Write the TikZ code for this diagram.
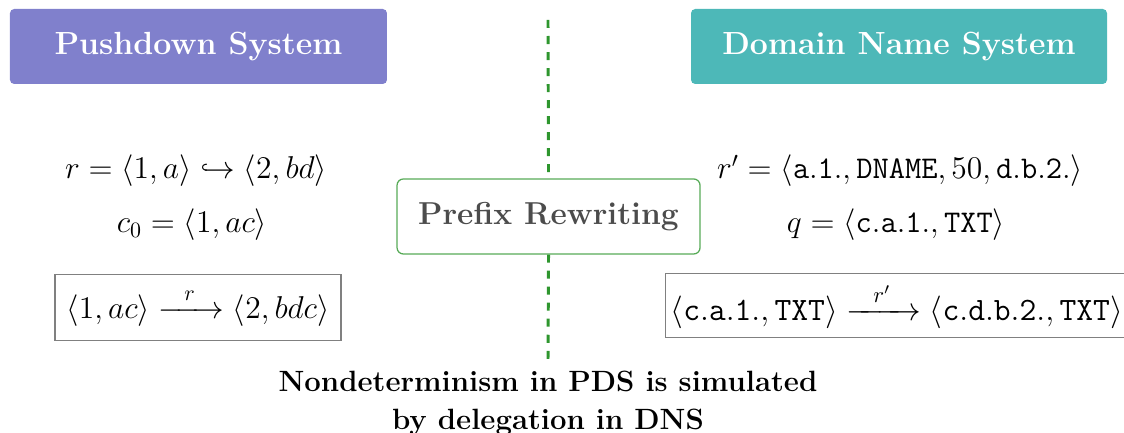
\documentclass[tikz,border=0pt]{standalone}
\usepackage{amsmath,amssymb}
\usetikzlibrary{positioning}

\definecolor{pdscol}{RGB}{128,128,204}
\definecolor{dnscol}{RGB}{77,184,184}
\definecolor{sepcol}{RGB}{46,150,46}

\newcommand{\hdtext}[1]{\scalebox{1.055}{#1}}
\newcommand{\eqtext}[1]{\scalebox{1.04}{$#1$}}
\newcommand{\steparrow}[1]{\xrightarrow{\hspace{0.6em}#1\hspace{0.6em}}}

\begin{document}
\begin{tikzpicture}[x=1cm,y=1cm,
    titlebox/.style={rounded corners=2pt, text=white, font=\Large\bfseries,
        minimum height=1.25cm, inner sep=0pt},
    rulebox/.style={draw=black!50, line width=0.5pt, font=\Large,
        inner xsep=5.5pt, inner ysep=6.5pt},
    eqn/.style={font=\Large, anchor=base, inner sep=0pt},
    sepline/.style={draw=sepcol, line width=1.4pt, dash pattern=on 3.8pt off 3.8pt}]
    \useasboundingbox (0,0) rectangle (18.733,-7.2);
    \clip (0,0) rectangle (18.733,-7.2);

    % headers
    \node[titlebox, fill=pdscol, minimum width=6.283cm] (pds) at (3.308,-0.775) {\hdtext{Pushdown System}};
    \node[titlebox, fill=dnscol, minimum width=6.933cm] (dns) at (14.983,-0.775) {\hdtext{Domain Name System}};

    % middle
    \coordinate (sep top) at (9.133,-0.333);
    \coordinate (sep bot) at (9.133,-6.033);
    \node[draw=sepcol!80, line width=0.6pt, rounded corners=3pt, fill=white,
        minimum width=5.05cm, minimum height=1.25cm, text=black!70,
        font=\Large\bfseries] (prefix) at (9.142,-3.608) {\scalebox{1.045}{Prefix Rewriting}};
    \draw[sepline] (sep top) -- (prefix.north);
    \draw[sepline] (prefix.south) -- (sep bot);

    % pushdown side
    \node[eqn] (rule) at (3.267,-2.98) {\eqtext{r = \langle 1, a\rangle \hookrightarrow \langle 2, bd\rangle}};
    \node[eqn] (conf) at (3.2,-3.88) {\eqtext{c_0 = \langle 1, ac\rangle}};
    \node[rulebox, anchor=north] (pdsstep) at (3.3,-4.567)
        {\eqtext{\langle 1, ac\rangle \steparrow{r} \langle 2, bdc\rangle}};

    % dns side
    \node[eqn] (rec) at (15.0,-2.98)
        {\eqtext{r' = \langle \mathtt{a.1.}, \mathtt{DNAME}, 50, \mathtt{d.b.2.}\rangle}};
    \node[eqn] (query) at (14.933,-3.88) {\eqtext{q = \langle \mathtt{c.a.1.}, \mathtt{TXT}\rangle}};
    \node[rulebox, inner xsep=2.4pt, inner ysep=4pt, anchor=north west] (dnsstep) at (11.083,-4.55)
        {\scalebox{1.075}{$\langle \mathtt{c.a.1.}, \mathtt{TXT}\rangle \steparrow{r'} \langle \mathtt{c.d.b.2.}, \mathtt{TXT}\rangle$}};

    % caption
    \node[font=\Large\bfseries, align=center, anchor=north, inner sep=0pt,
        scale=0.966, transform shape] (note) at (9.133,-6.17)
        {Nondeterminism in PDS is simulated\\[1pt]by delegation in DNS};
\end{tikzpicture}
\end{document}
